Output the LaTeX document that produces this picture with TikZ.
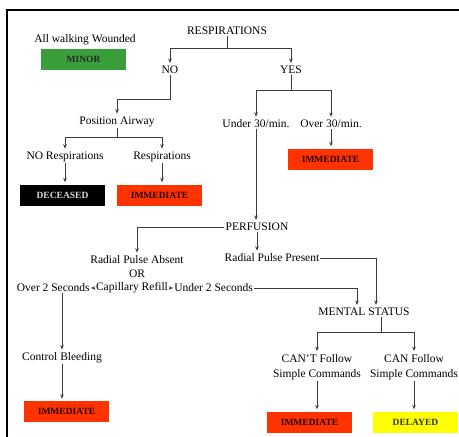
\documentclass[tikz,border=0pt]{standalone}
\usepackage{fontspec}
\setmainfont{Liberation Serif}
\usetikzlibrary{arrows.meta, positioning}

\definecolor{minorgreen}{RGB}{58,158,58}
\definecolor{immred}{RGB}{255,51,0}
\definecolor{delyellow}{RGB}{255,255,0}
\definecolor{linegray}{RGB}{60,60,60}

\begin{document}
\begin{tikzpicture}[x=1pt, y=-1pt, >={Stealth[length=4.5pt,width=3.5pt]},
  lbl/.style={font=\fontsize{11.5}{15}\selectfont, inner sep=1pt, text=black},
  tag/.style={minimum width=85pt, minimum height=21pt, inner sep=0pt,
    font=\fontsize{9.5}{10}\selectfont\bfseries},
  conn/.style={->, line width=0.9pt, draw=linegray, shorten >=2pt}]
  \useasboundingbox (0,0) rectangle (459,437);
  % Frame
  \draw[line width=1.5pt] (459,10) -- (7,10) -- (7,437);

  % Walking wounded
  \node[lbl] (walk) at (85,40) {All walking Wounded};
  \node[tag, fill=minorgreen, text=black!85] (minor) at (83.5,59.5) {MINOR};

  % Respirations
  \node[lbl] (resp) at (227,31) {RESPIRATIONS};
  \node[lbl] (no) at (170,70) {NO};
  \node[lbl] (yes) at (291,70) {YES};
  \draw[conn] (resp.south) -- ++(0,12) -| (no.north);
  \draw[conn] (resp.south) -- ++(0,12) -| (yes.north);

  % NO branch
  \node[lbl] (posair) at (117,122) {Position Airway};
  \draw[conn] (no.south) -- ++(0,24) -| (posair.north);
  \node[lbl] (norsp) at (65,157) {NO Respirations};
  \node[lbl] (rsp) at (162,157) {Respirations};
  \draw[conn] (posair.south) -- ++(0,9) -| (norsp.north);
  \draw[conn] (posair.south) -- ++(0,9) -| (rsp.north);
  \node[tag, fill=black, text=white!85!black] (dead) at (62.5,195) {DECEASED};
  \node[tag, fill=immred, text=black!85!red] (immA) at (159.5,195) {IMMEDIATE};
  \draw[conn] (norsp.south) -- (norsp.south |- dead.north);
  \draw[conn] (rsp.south) -- (rsp.south |- immA.north);

  % YES branch
  \node[lbl] (under30) at (256,124) {Under 30/min.};
  \node[lbl] (over30) at (331,124) {Over 30/min.};
  \draw[conn] (yes.south) -- ++(0,15) -| (under30.north);
  \draw[conn] (yes.south) -- ++(0,15) -| (over30.north);
  \node[tag, fill=immred, text=black!85!red] (immB) at (330.5,159) {IMMEDIATE};
  \draw[conn] (over30.south) -- (over30.south |- immB.north);

  % Perfusion
  \node[lbl] (perf) at (257,227) {PERFUSION};
  \draw[conn] (under30.south) -- (under30.south |- perf.north);
  \node[lbl] (rpabs) at (137,260) {Radial Pulse Absent};
  \node[lbl] (or) at (137,274) {OR};
  \node[lbl] (rppres) at (272,258) {Radial Pulse Present};
  \draw[conn] (perf.west) -| (rpabs.north);
  \draw[conn] (perf.south) -- (perf.south |- rppres.north);

  % Capillary refill
  \node[lbl] (cap) at (132,288) {Capillary Refill};
  \node[lbl, left=4pt of cap] (over2) {Over 2 Seconds};
  \node[lbl, right=4pt of cap] (under2) {Under 2 Seconds};
  \draw[conn, shorten >=0pt] (cap.west) -- (over2.east);
  \draw[conn, shorten >=0pt] (cap.east) -- (under2.west);

  % Control bleeding
  \node[lbl] (ctrl) at (62,358) {Control Bleeding};
  \node[tag, fill=immred, text=black!85!red] (immC) at (66.5,411.5) {IMMEDIATE};
  \draw[conn] (ctrl.north |- over2.south) -- (ctrl.north);
  \draw[conn] (ctrl.south) -- (ctrl.south |- immC.north);

  % Mental status
  \node[lbl] (mental) at (364,312) {MENTAL STATUS};
  \draw[conn] (under2.east) -| ([xshift=-7pt]mental.north);
  \draw[conn] (rppres.east) -| ([xshift=12pt]mental.north);
  \node[lbl, align=center] (cant) at (317,367) {CAN'T Follow\\Simple Commands};
  \node[lbl, align=center] (can) at (414,367) {CAN Follow\\Simple Commands};
  \draw[conn] ([xshift=17pt]mental.south) -- ++(0,15) -| (cant.north);
  \draw[conn] ([xshift=17pt]mental.south) -- ++(0,15) -| (can.north);
  \node[tag, fill=immred, text=black!85!red] (immD) at (309.5,422) {IMMEDIATE};
  \node[tag, fill=delyellow, text=black!80] (delayed) at (415.5,422) {DELAYED};
  \draw[conn] (cant.south) -- (cant.south |- immD.north);
  \draw[conn] (can.south) -- (can.south |- delayed.north);
\end{tikzpicture}
\end{document}
